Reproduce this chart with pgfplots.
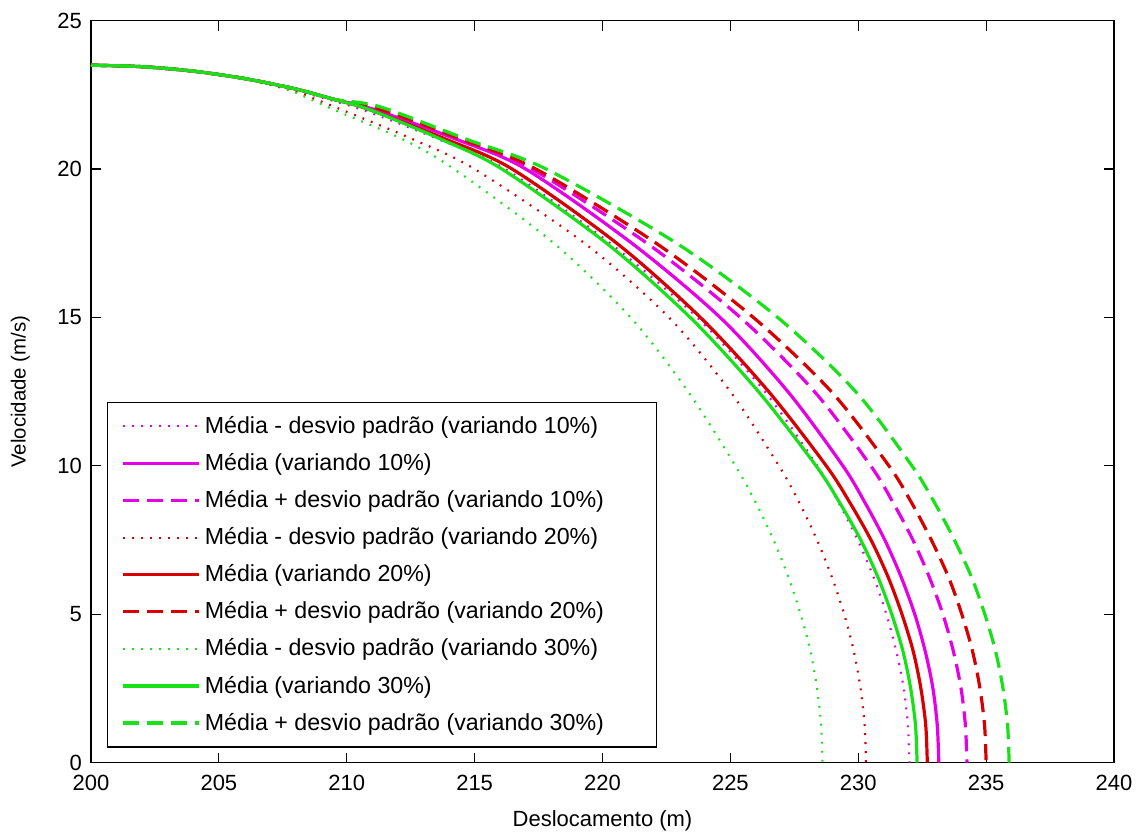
\documentclass[border=0pt]{standalone}
\usepackage{fontspec}
\setmainfont{Liberation Sans}
\usepackage{pgfplots}
\pgfplotsset{compat=1.18}
\definecolor{mmag}{RGB}{230,0,230}
\definecolor{mred}{RGB}{215,0,0}
\definecolor{mgreen}{RGB}{25,225,25}

\pgfplotsset{
  dotline/.style={line width=1.1pt, dash pattern=on 0.9pt off 3.6pt},
  solidline/.style={line width=1.6pt, solid},
  dashline/.style={line width=1.6pt, dash pattern=on 8pt off 4pt},
}

\begin{document}
\begin{tikzpicture}
\path[use as bounding box] (-45.5pt,-35.5pt) rectangle (525.5pt,381.35pt);
\begin{axis}[
  at={(0,0)}, anchor=south west,
  scale only axis, width=511.5pt, height=371pt,
  xmin=200, xmax=240, ymin=0, ymax=25,
  xtick={200,205,...,240}, ytick={0,5,...,25},
  tick align=inside, major tick length=5pt,
  tick style={black, line width=0.6pt},
  axis line style={line width=0.6pt},
  font=\fontsize{11}{13}\selectfont,
  /pgf/number format/assume math mode=true,
  xticklabel style={yshift=-2.5pt},
  yticklabel style={xshift=-1pt},
  xlabel={Deslocamento (m)}, ylabel={Velocidade (m/s)},
  xlabel style={yshift=-3pt},
  ylabel style={yshift=7pt, font=\fontsize{10.2}{12}\selectfont},
  legend cell align=left,
  legend image code/.code={\draw[#1] (0pt,0pt) -- (38pt,0pt);},
  legend style={at={(0,0)}, anchor=south west, xshift=8pt, yshift=7.5pt,
    draw=black, line width=0.6pt, row sep=4.5pt, inner xsep=7pt, inner ysep=5pt,
    font=\fontsize{11.6}{14}\selectfont},
]
% 10%
\addplot[mmag, dotline, smooth] coordinates {
(200,23.5)(202,23.45)(204,23.3)(206,23.05)(208,22.65)(210.6,22.0)(213.6,21.0)(216.2,20)(220.3,17.5)(223.7,15)(226.35,12.5)(228.4,10)(229.24,8.75)(229.98,7.5)(230.6,6.25)(231.1,5)(231.49,3.75)(231.78,2.5)(231.94,1.25)(232.0,0)};
\addlegendentry{Média - desvio padrão (variando 10\%)\hspace*{20pt}}
\addplot[mmag, solidline, smooth] coordinates {
(200,23.5)(202,23.45)(204,23.3)(206,23.05)(208,22.7)(209.5,22.35)(211.1,22.0)(214.3,21.0)(217.0,20)(221.15,17.5)(224.6,15)(227.25,12.5)(229.4,10)(230.27,8.75)(231.04,7.5)(231.68,6.25)(232.21,5)(232.62,3.75)(232.92,2.5)(233.09,1.25)(233.15,0)};
\addlegendentry{Média (variando 10\%)}
\addplot[mmag, dashline, smooth] coordinates {
(200,23.5)(202,23.45)(204,23.3)(206,23.05)(208,22.7)(209.5,22.35)(211.1,22.05)(214.4,21.0)(217.24,20)(221.74,17.5)(225.39,15)(228.29,12.5)(230.49,10)(231.37,8.75)(232.14,7.5)(232.78,6.25)(233.31,5)(233.72,3.75)(234.02,2.5)(234.19,1.25)(234.25,0)};
\addlegendentry{Média + desvio padrão (variando 10\%)}
% 20%
\addplot[mred, dotline, smooth] coordinates {
(200,23.5)(202,23.45)(204,23.3)(206,23.05)(208,22.6)(209.8,22.0)(212.6,21.0)(215.0,20)(219.3,17.5)(222.6,15)(225.0,12.5)(226.9,10)(227.7,8.75)(228.39,7.5)(228.97,6.25)(229.45,5)(229.83,3.75)(230.09,2.5)(230.25,1.25)(230.3,0)};
\addlegendentry{Média - desvio padrão (variando 20\%)}
\addplot[mred, solidline, smooth] coordinates {
(200,23.5)(202,23.45)(204,23.3)(206,23.05)(208,22.7)(209.5,22.35)(210.9,22.0)(213.9,21.0)(216.47,20)(220.56,17.5)(223.83,15)(226.5,12.5)(228.75,10)(229.68,8.75)(230.5,7.5)(231.17,6.25)(231.71,5)(232.15,3.75)(232.45,2.5)(232.64,1.25)(232.7,0)};
\addlegendentry{Média (variando 20\%)}
\addplot[mred, dashline, smooth] coordinates {
(200,23.5)(202,23.45)(204,23.3)(206,23.05)(208,22.7)(209.5,22.35)(211.2,22.05)(214.5,21.0)(217.4,20)(222.1,17.5)(225.9,15)(228.95,12.5)(231.2,10)(232.09,8.75)(232.86,7.5)(233.53,6.25)(234.05,5)(234.47,3.75)(234.76,2.5)(234.94,1.25)(235.0,0)};
\addlegendentry{Média + desvio padrão (variando 20\%)}
% 30%
\addplot[mgreen, dotline, smooth] coordinates {
(200,23.5)(202,23.45)(204,23.3)(206,23.05)(207.5,22.75)(209.5,22.0)(212.2,21.0)(214.2,20.0)(218.1,17.5)(221.1,15)(223.35,12.5)(225.2,10)(226.0,8.75)(226.69,7.5)(227.27,6.25)(227.75,5)(228.13,3.75)(228.39,2.5)(228.55,1.25)(228.6,0)};
\addlegendentry{Média - desvio padrão (variando 30\%)}
\addplot[mgreen, solidline, smooth] coordinates {
(200,23.5)(202,23.45)(204,23.3)(206,23.05)(208,22.7)(209.5,22.35)(210.9,22.0)(213.7,21.0)(216.07,20)(220.16,17.5)(223.43,15)(226.1,12.5)(228.35,10)(229.28,8.75)(230.1,7.5)(230.77,6.25)(231.31,5)(231.75,3.75)(232.05,2.5)(232.24,1.25)(232.3,0)};
\addlegendentry{Média (variando 30\%)}
\addplot[mgreen, dashline, smooth] coordinates {
(200,23.5)(202,23.45)(204,23.3)(206,23.05)(208,22.7)(209.5,22.35)(211.3,22.1)(214.7,21.0)(217.8,20)(222.9,17.5)(226.85,15)(229.9,12.5)(232.1,10)(232.99,8.75)(233.76,7.5)(234.43,6.25)(234.95,5)(235.37,3.75)(235.66,2.5)(235.84,1.25)(235.9,0)};
\addlegendentry{Média + desvio padrão (variando 30\%)}
\end{axis}
\end{tikzpicture}
\end{document}
